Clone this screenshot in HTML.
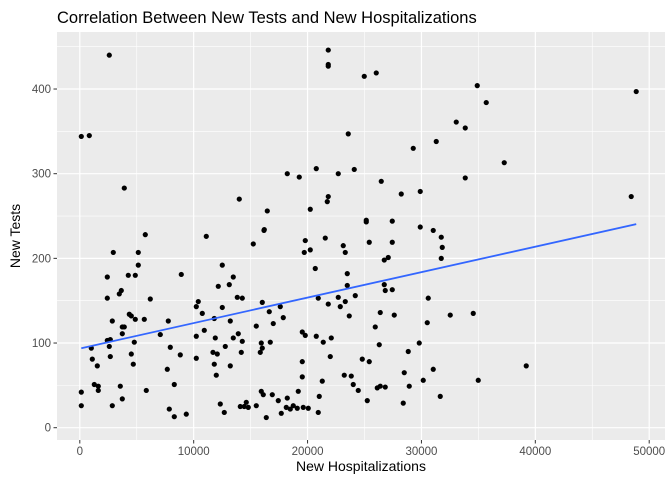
<!DOCTYPE html>
<html><head><meta charset="utf-8"><style>
body{margin:0;background:#fff;}
svg{display:block;font-family:"Liberation Sans",sans-serif;}
</style></head><body>
<svg id="chart" width="672" height="480">
<text x="57" y="23" font-size="16.5" fill="#000">Correlation Between New Tests and New Hospitalizations</text>
<rect x="57" y="32" width="608" height="408" fill="#ebebeb"/>
<g id="grid"></g>
<g id="points"></g>
<g id="fit"></g>
<g id="axes"></g>
<text x="361" y="471" font-size="14" text-anchor="middle" fill="#000">New Hospitalizations</text>
<text transform="translate(20,236) rotate(-90)" font-size="14" text-anchor="middle" fill="#000">New Tests</text>
</svg>
<script>
const hosp=[5751,11107,16173,2941,5136,5136,15233,12512,2415,4258,4873,8912,13477,13126,12160,3644,3468,2415,6190,13829,14268,10404,10229,16024,12512,10756,16638,4346,4522,4873,5663,7770,11809,13214,2854,16989,3732,3907,15497,10931,3732,7068,13916,10229,11897,13477,2415,2678,4785,14268,15936,16726,2590,7946,12775,1010,16024,15848,11695,12073,14180,4522,2678,8824,1098,10229,4697,11809,1537,13214,7683,11985,1273,1624,3556,8297,1624,5839,132,15936,16111,16902,3732,132,2854,12336,14092,14619,14443,14794,15497,12687,7858,8297,9351,16375,
2590,132,834,3907,14004,16463,16199,
21818,21818,21818,24979,26033,34901,35691,33057,33847,23574,31301,29281,18219,19272,20765,22696,24101,26472,33847,21818,21731,28228,29896,20238,25155,25155,27438,29896,31037,31740,19799,21555,
19711,20238,23135,23311,25418,27438,31828,31740,20677,23487,26735,27086,23487,26735,26823,27438,17604,17867,20940,21818,22696,22872,23311,24189,23662,26384,27613,30598,30511,32530,34549,25945,19536,19799,20765,22082,21379,26296,29808,28842,21994,24804,25418,19536,28491,31037,19536,23223,23838,21292,30159,34988,24013,24452,26121,26384,26823,28930,17428,18219,19184,21028,25243,31652,28403,18131,18482,18745,19097,19623,20062,17692,20940,
48861,37271,48422,39203];
const tests=[228,226,233,207,207,192,217,192,178,180,180,181,178,169,167,162,158,153,152,154,153,149,143,148,142,135,137,134,132,128,128,126,129,126,126,123,119,119,120,115,111,110,111,108,106,106,103,104,101,102,100,101,96,95,96,94,94,89,89,87,89,87,84,86,81,82,75,75,73,73,69,62,51,49,49,51,44,44,42,43,39,39,34,26,26,28,25,30,25,24,26,18,22,13,16,12,
440,344,345,283,270,256,234,
446,429,427,415,419,404,384,361,354,347,338,330,300,296,306,300,305,291,295,273,267,276,279,258,245,243,244,237,233,225,221,224,
207,210,215,207,219,219,213,200,188,182,198,201,168,169,162,163,143,130,153,146,154,143,149,156,132,136,133,153,124,133,135,119,113,109,108,106,101,98,100,90,84,81,78,78,65,69,60,62,61,55,56,56,51,44,47,49,48,49,32,35,43,37,32,37,29,24,22,26,23,24,23,17,18,
397,313,273,73];
const xTicks=[0,10000,20000,30000,40000,50000];
const yTicks=[0,100,200,300,400];
const xMinor=[5000,15000,25000,35000,45000];
const yMinor=[50,150,250,350,450];
const NS="http://www.w3.org/2000/svg";
function sx(v){return 79.8+v*0.011388;}
function sy(v){return 427.7-v*0.8467;}
function mk(tag,attrs,parent){const e=document.createElementNS(NS,tag);for(const k in attrs)e.setAttribute(k,attrs[k]);parent.appendChild(e);return e;}
const grid=document.getElementById('grid'),pts=document.getElementById('points'),fit=document.getElementById('fit'),axes=document.getElementById('axes');
xMinor.forEach(v=>{const l=mk('line',{x1:sx(v),x2:sx(v),y1:32,y2:440,stroke:'#fff','stroke-width':0.6},grid);});
yMinor.forEach(v=>{const l=mk('line',{x1:57,x2:665,y1:sy(v),y2:sy(v),stroke:'#fff','stroke-width':0.6},grid);});
xTicks.forEach(v=>{const l=mk('line',{x1:sx(v),x2:sx(v),y1:32,y2:440,stroke:'#fff','stroke-width':1.2},grid);
const t=mk('line',{x1:sx(v),x2:sx(v),y1:440,y2:443.5,stroke:'#333','stroke-width':1},axes);
const tx=mk('text',{x:sx(v),y:455,'font-size':11.5,'text-anchor':'middle',fill:'#4d4d4d'},axes);tx.textContent=v;});
yTicks.forEach(v=>{const l=mk('line',{x1:57,x2:665,y1:sy(v),y2:sy(v),stroke:'#fff','stroke-width':1.2},grid);
const t=mk('line',{x1:53.5,x2:57,y1:sy(v),y2:sy(v),stroke:'#333','stroke-width':1},axes);
const tx=mk('text',{x:51,y:sy(v)+4,'font-size':11.5,'text-anchor':'end',fill:'#4d4d4d'},axes);tx.textContent=v;});
hosp.forEach((h,i)=>{const c=mk('circle',{cx:sx(h),cy:sy(tests[i]),r:2.6,fill:'#000'},pts);});
const n=hosp.length;let mx=0,my=0;for(let i=0;i<n;i++){mx+=hosp[i];my+=tests[i];}mx/=n;my/=n;
let sxy=0,sxx=0;for(let i=0;i<n;i++){sxy+=(hosp[i]-mx)*(tests[i]-my);sxx+=(hosp[i]-mx)**2;}
const b=sxy/sxx,a=my-b*mx;const x0=Math.min(...hosp),x1=Math.max(...hosp);
const ln=mk('line',{x1:sx(x0),y1:sy(a+b*x0),x2:sx(x1),y2:sy(a+b*x1),stroke:'#3366ff','stroke-width':1.8},fit);


</script>
</body></html>
